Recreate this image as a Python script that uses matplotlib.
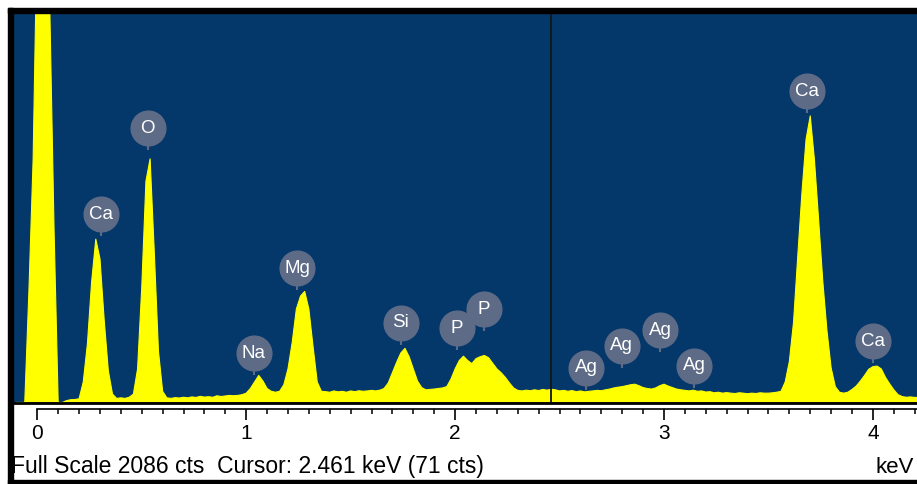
import numpy as np
import matplotlib
matplotlib.use('Agg')
import matplotlib.pyplot as plt
from matplotlib.patches import Rectangle
from matplotlib.transforms import offset_copy

# channel energies (keV), 0.02 keV per channel
kev = np.round(np.arange(-0.10, 4.2201, 0.02), 2)

# counts, one row = 0.2 keV
counts = [
    0, 0, 0, 600, 1300, 2600, 2800, 2600, 2100, 935,
    0, 0, 10, 15, 16, 20, 110, 315, 645, 875,
    770, 445, 170, 45, 22, 25, 22, 28, 45, 180,
    615, 1185, 1305, 805, 275, 60, 25, 22, 26, 24,
    28, 25, 30, 27, 33, 29, 31, 28, 36, 32,
    35, 38, 36, 38, 42, 50, 75, 110, 145, 115,
    75, 60, 55, 60, 95, 180, 320, 500, 570, 595,
    500, 300, 110, 60, 58, 55, 62, 57, 60, 55,
    62, 58, 63, 60, 62, 65, 62, 66, 75, 105,
    160, 215, 265, 290, 245, 180, 115, 80, 68, 70,
    72, 75, 78, 85, 125, 180, 225, 248, 225, 208,
    235, 245, 252, 240, 210, 180, 160, 135, 105, 78,
    65, 62, 66, 63, 68, 64, 70, 66, 71, 68,
    62, 65, 60, 64, 58, 62, 57, 60, 62, 65,
    63, 68, 72, 78, 82, 85, 90, 95, 98, 90,
    80, 75, 72, 78, 90, 98, 88, 80, 72, 68,
    65, 62, 66, 60, 62, 56, 58, 52, 55, 50,
    53, 50, 48, 52, 50, 47, 50, 48, 52, 50,
    50, 52, 55, 60, 110, 220, 430, 780, 1120, 1410,
    1535, 1300, 980, 650, 385, 185, 85, 55, 50, 55,
    70, 88, 115, 145, 178, 192, 195, 180, 135, 100,
    68, 42, 32, 28, 30, 27, 28,
]

# element markers: label, energy, counts at stem foot
lab_names = ['Ca', 'O', 'Na', 'Mg', 'Si', 'P', 'P', 'Ag', 'Ag', 'Ag', 'Ag', 'Ca', 'Ca']
lab_kev = [0.307, 0.528, 1.037, 1.245, 1.740, 2.008, 2.138, 2.627, 2.798, 2.981, 3.144, 3.683, 4.002]
lab_cts = [890, 1350, 147, 602, 308, 281, 382, 67, 185, 270, 78, 1549, 211]

full_scale = 2086
cursor_kev = 2.461
cursor_cts = 71

plt.rcParams['font.family'] = ['Liberation Sans', 'DejaVu Sans']

fig = plt.figure(figsize=(9.17, 4.84), dpi=100)
ax = fig.add_axes([13 / 917, 81.5 / 484, 904 / 917, 389.5 / 484])
ax.set_facecolor('#04376a')

ax.fill_between(kev, counts, 0, color='#ffff00', linewidth=0, zorder=2)
ax.plot(kev, counts, color='#ffff00', lw=0.8, zorder=2)
ax.axvline(cursor_kev, color='#151515', lw=1.3, zorder=3)
ax.axhline(0, color='black', lw=2, clip_on=False, zorder=3)

ax.set_xlim(-0.1163, 4.211)
ax.set_ylim(0, full_scale)

# element labels: grey disc on a short stem
stem_tr = offset_copy(ax.transData, fig=fig, x=0, y=4, units='dots')
lab_tr = offset_copy(ax.transData, fig=fig, x=0, y=22, units='dots')
ax.plot(lab_kev, lab_cts, ls='none', marker='|', ms=6, mew=1.5,
        color='#5d6b86', transform=stem_tr, zorder=4)
ax.plot(lab_kev, lab_cts, ls='none', marker='o', ms=25, color='#5d6b86',
        mec='#5d6b86', transform=lab_tr, zorder=5)
for name, x, y in zip(lab_names, lab_kev, lab_cts):
    ax.text(x, y, name, transform=lab_tr, ha='center', va='center',
            color='white', fontsize=13.5, zorder=6)

# axis styling
for s in ['top', 'left', 'right']:
    ax.spines[s].set_visible(False)
ax.spines['bottom'].set_position(('outward', 4.7))
ax.spines['bottom'].set_bounds(0, 4.211)
ax.spines['bottom'].set_linewidth(1.2)
ax.set_xticks([0, 1, 2, 3, 4])
ax.set_xticks(np.arange(0, 4.25, 0.1), minor=True)
ax.set_yticks([])
ax.tick_params(axis='x', which='major', length=8, width=1.2, labelsize=15, pad=3)
ax.tick_params(axis='x', which='minor', length=3.5, width=1.1)

fig.text(11 / 917, 11 / 484,
         f'Full Scale {full_scale} cts  Cursor: {cursor_kev:.3f} keV ({cursor_cts} cts)',
         fontsize=16.5, ha='left', va='baseline')
fig.text(0.997, 11 / 484, 'keV', fontsize=16, ha='right', va='baseline')

# black window frame
fig.add_artist(Rectangle((8, 471), 909, 5, transform=None, color='black'))
fig.add_artist(Rectangle((8, 0), 5, 476, transform=None, color='black'))
fig.add_artist(Rectangle((8, 0), 909, 4.5, transform=None, color='black'))

fig.savefig('out.png', dpi=100)
